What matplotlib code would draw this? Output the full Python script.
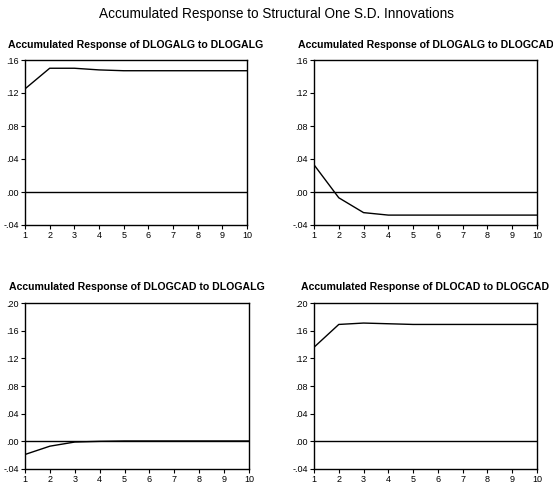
import matplotlib
matplotlib.use("Agg")
import matplotlib.pyplot as plt
import numpy as np

plt.rcParams['font.family'] = ['Liberation Sans', 'DejaVu Sans']

periods = [1, 2, 3, 4, 5, 6, 7, 8, 9, 10]

alg_alg = [0.125, 0.150, 0.150, 0.148, 0.147, 0.147, 0.147, 0.147, 0.147, 0.147]
alg_cad = [0.033, -0.007, -0.025, -0.028, -0.028, -0.028, -0.028, -0.028, -0.028, -0.028]
cad_alg = [-0.019, -0.007, -0.001, 0.000, 0.0005, 0.0005, 0.0005, 0.0005, 0.0005, 0.0005]
cad_cad = [0.136, 0.169, 0.171, 0.170, 0.169, 0.169, 0.169, 0.169, 0.169, 0.169]

titles = ["Accumulated Response of DLOGALG to DLOGALG",
          "Accumulated Response of DLOGALG to DLOGCAD",
          "Accumulated Response of DLOGCAD to DLOGALG",
          "Accumulated Response of DLOCAD to DLOGCAD"]
series = [alg_alg, alg_cad, cad_alg, cad_cad]
yticks_top = [-0.04, 0.00, 0.04, 0.08, 0.12, 0.16]
yticks_bot = [-0.04, 0.00, 0.04, 0.08, 0.12, 0.16, 0.20]
ylabels_top = ["-.04", ".00", ".04", ".08", ".12", ".16"]
ylabels_bot = ["-.04", ".00", ".04", ".08", ".12", ".16", ".20"]

W, H = 553, 488
fig = plt.figure(figsize=(W / 100, H / 100), dpi=100)

# axes boxes in pixels: left, top, right, bottom
boxes = [(25, 60, 247, 225), (314, 60, 537, 225),
         (25, 303, 249, 469), (314, 303, 537, 469)]

for i, (l, t, r, b) in enumerate(boxes):
    ax = fig.add_axes([l / W, 1 - b / H, (r - l) / W, (b - t) / H])
    ax.plot(periods, series[i], color='black', lw=1.0)
    ax.axhline(0, color='black', lw=1.0)
    ax.set_xlim(1, 10)
    if i < 2:
        ax.set_ylim(-0.04, 0.16)
        ax.set_yticks(yticks_top)
        ax.set_yticklabels(ylabels_top)
    else:
        ax.set_ylim(-0.04, 0.20)
        ax.set_yticks(yticks_bot)
        ax.set_yticklabels(ylabels_bot)
    ax.set_xticks(periods)
    ax.tick_params(labelsize=6.5, length=3, width=0.8, pad=1.5)
    for s in ax.spines.values():
        s.set_linewidth(1.0)
    ax.set_title(titles[i], fontsize=7.6, fontweight='bold', pad=9)

fig.suptitle("Accumulated Response to Structural One S.D. Innovations",
             fontsize=9.8, y=0.985)

fig.savefig("out.png", dpi=100)
